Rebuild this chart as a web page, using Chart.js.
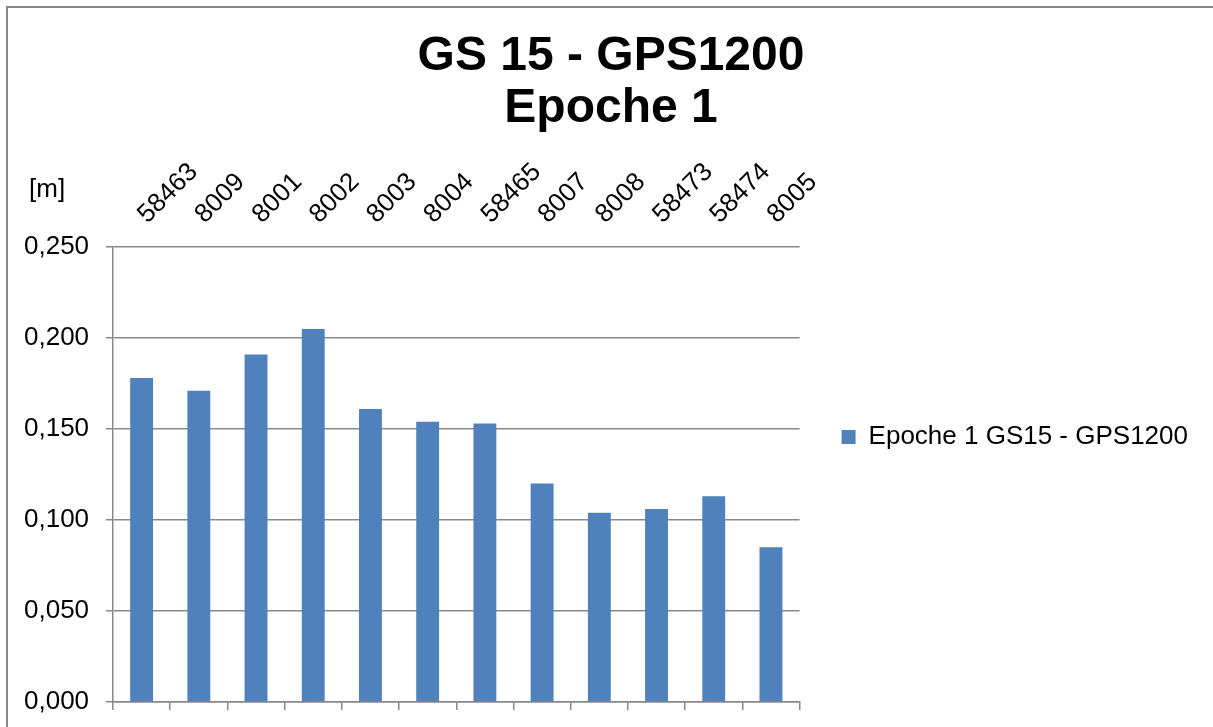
<!DOCTYPE html>
<html>
<head>
<meta charset="utf-8">
<script src="https://cdn.jsdelivr.net/npm/chart.js"></script>
<style>
  html, body { margin: 0; padding: 0; background: #fff; overflow: hidden; }
  #wrap { position: relative; width: 1213px; height: 727px; }
  #frame { position: absolute; left: 6px; top: 6px; width: 1300px; height: 900px;
           border-left: 2px solid #888; border-top: 2px solid #888; }
  #chart { position: absolute; left: 0; top: 0; }
</style>
</head>
<body>
<div id="wrap">
  <div id="frame"></div>
  <canvas id="chart" width="1213" height="727"></canvas>
</div>
<script>
// chart data
const points = ['58463', '8009', '8001', '8002', '8003', '8004', '58465', '8007', '8008', '58473', '58474', '8005'];
const values = [0.178, 0.171, 0.191, 0.205, 0.161, 0.154, 0.153, 0.120, 0.104, 0.106, 0.113, 0.085];
const seriesName = 'Epoche 1 GS15 - GPS1200';
const titleLines = ['GS 15 - GPS1200', 'Epoche 1'];
const yMin = 0, yMax = 0.25, yStep = 0.05;
const unitLabel = '[m]';

Chart.defaults.font.family = "'Liberation Sans', Arial, sans-serif";
Chart.defaults.color = '#000';

// unit text above the value axis
const unitPlugin = {
  id: 'unitLabel',
  afterDraw(chart) {
    const c = chart.ctx;
    c.save();
    c.font = "26px 'Liberation Sans', Arial, sans-serif";
    c.fillStyle = '#000';
    c.textAlign = 'left';
    c.textBaseline = 'alphabetic';
    c.fillText(unitLabel, 29, 197);
    c.restore();
  }
};

const ctx = document.getElementById('chart').getContext('2d');
new Chart(ctx, {
  type: 'bar',
  data: {
    labels: points,
    datasets: [{
      label: seriesName,
      data: values,
      backgroundColor: '#4F81BD',
      barPercentage: 0.4,
      categoryPercentage: 1,
      xAxisID: 'x',
      yAxisID: 'y'
    }]
  },
  options: {
    responsive: false,
    animation: false,
    layout: { padding: { left: 24, right: 15, top: 0, bottom: 0 } },
    plugins: {
      title: {
        display: true,
        text: titleLines,
        color: '#000',
        font: { size: 48, weight: 'bold', lineHeight: 1.1 },
        padding: { top: 30, bottom: 0 }
      },
      legend: {
        position: 'right',
        align: 'center',
        maxWidth: 413,
        title: { display: true, text: ' ', font: { size: 10, lineHeight: 1 }, padding: { top: 0, bottom: 137 } },
        labels: { boxWidth: 14, boxHeight: 14, padding: 42, color: '#000', font: { size: 26 } }
      },
      tooltip: { enabled: false }
    },
    scales: {
      x: {
        position: 'bottom',
        offset: true,
        grid: { display: true, drawOnChartArea: false, drawTicks: true, tickLength: 8, offset: true, color: '#888', lineWidth: 1.5 },
        border: { display: true, color: '#888', width: 1.5 },
        ticks: { display: false },
        afterFit: s => { s.height = 25; }
      },
      x2: {
        type: 'category',
        position: 'top',
        offset: true,
        grid: { display: false, drawTicks: false },
        border: { display: false },
        ticks: { minRotation: 45, maxRotation: 45, autoSkip: false, padding: 17, labelOffset: 23, color: '#000', font: { size: 26 } },
        afterFit: s => { s.height = 111.4; }
      },
      y: {
        min: yMin,
        max: yMax,
        ticks: {
          stepSize: yStep,
          padding: 0,
          crossAlign: 'far',
          color: '#000',
          font: { size: 26 },
          callback: v => v.toFixed(3).replace('.', ',')
        },
        grid: { color: '#888', lineWidth: 1.5, tickLength: 7 },
        border: { color: '#888', width: 1.5 },
        afterFit: s => { s.width = 89; }
      }
    }
  },
  plugins: [unitPlugin]
});
</script>
</body>
</html>
